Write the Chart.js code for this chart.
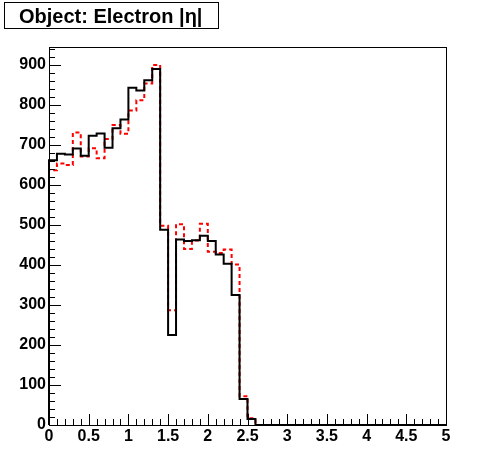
<!DOCTYPE html>
<html>
<head>
<meta charset="utf-8">
<script src="https://cdn.jsdelivr.net/npm/chart.js@4.4.0/dist/chart.umd.min.js"></script>
<style>
  html, body { margin: 0; padding: 0; background: #fff; }
  #wrap { width: 496px; height: 472px; }
</style>
</head>
<body>
<div id="wrap"><canvas id="etaChart" width="496" height="472"></canvas></div>
<script>
// bords des bins en |eta| (50 bins de 0.1)
const binEdges = [0.0, 0.1, 0.2, 0.3, 0.4, 0.5, 0.6, 0.7, 0.8, 0.9,
                  1.0, 1.1, 1.2, 1.3, 1.4, 1.5, 1.6, 1.7, 1.8, 1.9,
                  2.0, 2.1, 2.2, 2.3, 2.4, 2.5, 2.6, 2.7, 2.8, 2.9,
                  3.0, 3.1, 3.2, 3.3, 3.4, 3.5, 3.6, 3.7, 3.8, 3.9,
                  4.0, 4.1, 4.2, 4.3, 4.4, 4.5, 4.6, 4.7, 4.8, 4.9, 5.0];

// histogramme noir (trait plein)
const blackCounts = [662, 678, 676, 691, 673, 723, 729, 693, 742, 764,
                     843, 836, 862, 890, 488, 225, 464, 460, 462, 473,
                     460, 426, 403, 325, 65, 15, 0, 0, 0, 0,
                     0, 0, 0, 0, 0, 0, 0, 0, 0, 0,
                     0, 0, 0, 0, 0, 0, 0, 0, 0, 0];

// histogramme rouge (pointillé)
const redCounts = [637, 654, 650, 731, 671, 692, 667, 715, 750, 728,
                   786, 812, 854, 900, 498, 287, 502, 440, 461, 503,
                   433, 430, 439, 401, 72, 17, 0, 0, 0, 0,
                   0, 0, 0, 0, 0, 0, 0, 0, 0, 0,
                   0, 0, 0, 0, 0, 0, 0, 0, 0, 0];

const yTickLabels = [0, 100, 200, 300, 400, 500, 600, 700, 800, 900];
const xTickLabels = [0, 0.5, 1, 1.5, 2, 2.5, 3, 3.5, 4, 4.5, 5];
const titleText = "Object: Electron |\u03b7|";

// Construire les points en escalier à partir des bins
function stepPoints(counts) {
    const pts = [{ x: binEdges[0], y: 0 }];
    counts.forEach((v, i) => pts.push({ x: binEdges[i], y: v }));
    pts.push({ x: binEdges[binEdges.length - 1], y: counts[counts.length - 1] });
    return pts;
}

const FONT = "'Liberation Sans', Arial, Helvetica, sans-serif";

// Cadre, petites graduations vers l'intérieur et titre façon ROOT
const rootFrame = {
    id: "rootFrame",
    afterDraw(chart) {
        const ctx = chart.ctx;
        const a = chart.chartArea;
        const xs = chart.scales.x, ys = chart.scales.y;
        ctx.save();
        ctx.strokeStyle = "#000";
        ctx.lineWidth = 1;
        ctx.strokeRect(Math.round(a.left) + 0.5, Math.round(a.top) + 0.5,
                       Math.round(a.right - a.left), Math.round(a.bottom - a.top));

        ctx.beginPath();
        // axe y : majeures tous les 100, mineures tous les 20
        for (let v = 0; v <= ys.max; v += 20) {
            const py = Math.round(ys.getPixelForValue(v)) + 0.5;
            const len = (v % 100 === 0) ? 12 : 6;
            ctx.moveTo(a.left, py);
            ctx.lineTo(a.left + len, py);
        }
        // axe x : majeures tous les 0.5, mineures tous les 0.1
        for (let k = 0; k <= 50; k++) {
            const px = Math.round(xs.getPixelForValue(k / 10)) + 0.5;
            const len = (k % 5 === 0) ? 11 : 6;
            ctx.moveTo(px, a.bottom);
            ctx.lineTo(px, a.bottom - len);
        }
        ctx.stroke();

        // boîte du titre
        ctx.fillStyle = "#fff";
        ctx.fillRect(4.5, 2.5, 214, 26);
        ctx.strokeRect(4.5, 2.5, 214, 26);
        ctx.fillStyle = "#000";
        ctx.font = "bold 20px " + FONT;
        ctx.textBaseline = "alphabetic";
        ctx.textAlign = "left";
        ctx.fillText(titleText, 19, 23);
        ctx.restore();
    }
};

const ctx = document.getElementById("etaChart").getContext("2d");
new Chart(ctx, {
    type: "line",
    data: {
        datasets: [
            {
                label: "noir",
                data: stepPoints(blackCounts),
                stepped: "before",
                borderColor: "#000000",
                borderWidth: 2,
                pointRadius: 0,
                fill: false,
                clip: 4,
                order: 0
            },
            {
                label: "rouge",
                data: stepPoints(redCounts),
                stepped: "before",
                borderColor: "#ff0000",
                borderWidth: 2,
                borderDash: [4, 3],
                pointRadius: 0,
                fill: false,
                clip: 4,
                order: 1
            }
        ]
    },
    options: {
        responsive: false,
        animation: false,
        devicePixelRatio: 1,
        layout: { padding: { top: 47, right: 50, bottom: 0, left: 0 } },
        plugins: {
            legend: { display: false },
            tooltip: { enabled: false },
            title: { display: false }
        },
        scales: {
            x: {
                type: "linear",
                min: 0,
                max: 5,
                afterFit: s => { s.height = 47; },
                afterBuildTicks: s => { s.ticks = xTickLabels.map(v => ({ value: v })); },
                grid: { display: false, drawTicks: false },
                border: { display: false },
                ticks: {
                    padding: 2,
                    maxRotation: 0,
                    autoSkip: false,
                    color: "#000",
                    font: { family: FONT, size: 16, weight: "bold" },
                    callback: v => String(v)
                }
            },
            y: {
                type: "linear",
                min: 0,
                max: 945,
                afterFit: s => { s.width = 49; },
                afterBuildTicks: s => { s.ticks = yTickLabels.map(v => ({ value: v })); },
                grid: { display: false, drawTicks: false },
                border: { display: false },
                ticks: {
                    padding: 3,
                    autoSkip: false,
                    color: "#000",
                    font: { family: FONT, size: 16, weight: "bold" },
                    callback: v => String(v)
                }
            }
        }
    },
    plugins: [rootFrame]
});
</script>
</body>
</html>
